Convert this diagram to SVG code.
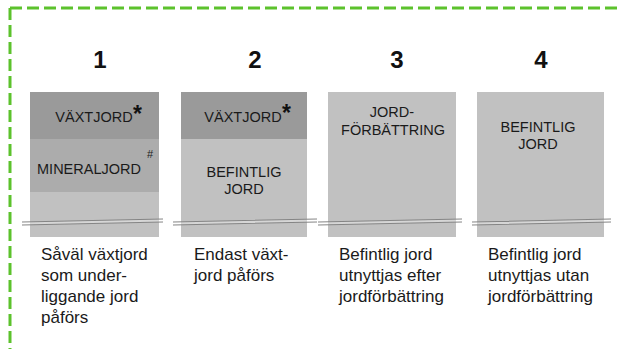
<svg xmlns="http://www.w3.org/2000/svg" width="618" height="349" viewBox="0 0 618 349">
<style>
.num{font-family:"Liberation Sans",Arial,sans-serif;font-weight:bold;font-size:24px;fill:#111;text-anchor:middle}
.lab{font-family:"Liberation Sans",Arial,sans-serif;font-size:14.5px;fill:#1a1a1a;text-anchor:middle}
.cap{font-family:"Liberation Sans",Arial,sans-serif;font-size:17px;fill:#1a1a1a}
.ast{font-family:"Liberation Sans",Arial,sans-serif;font-weight:bold;font-size:23px;fill:#111}
.sup{font-family:"Liberation Sans",Arial,sans-serif;font-size:11px;fill:#222}
.dark{fill:#9a9a9a}
.mid{fill:#acacac}
.light{fill:#c1c1c1}
.brk{fill:none;stroke:#858585;stroke-width:1.1}
.band{fill:#ffffff;fill-opacity:0.35}
.frame{fill:none;stroke:#5cc22c;stroke-width:3;stroke-dasharray:12 5}
</style>
<rect width="618" height="349" fill="#ffffff"/>
<g id="frame">
<line class="frame" x1="10" y1="8" x2="618" y2="8"/>
<line class="frame" x1="10" y1="8" x2="10" y2="349"/>
</g>
<g id="col1">
<text class="num" x="100" y="68">1</text>
<rect class="light" x="30" y="92" width="129" height="145"/>
<rect class="mid" x="30" y="139" width="129" height="53"/>
<rect class="dark" x="30" y="92" width="129" height="47"/>
<text class="lab" x="94" y="122">VÄXTJORD</text>
<text class="ast" x="133" y="122">*</text>
<text class="lab" x="89" y="174">MINERALJORD</text>
<text class="sup" x="147" y="158">#</text>
<polygon class="band" points="22,222 163,219 163,222 22,225"/>
<path class="brk" d="M22,222 L163,219 M22,225 L163,222"/>
<text class="cap" x="41" y="260">Såväl växtjord</text>
<text class="cap" x="41" y="281">som under-</text>
<text class="cap" x="41" y="302">liggande jord</text>
<text class="cap" x="41" y="323">påförs</text>
</g>
<g id="col2">
<text class="num" x="255" y="68">2</text>
<rect class="light" x="181" y="92" width="126" height="145"/>
<rect class="dark" x="181" y="92" width="126" height="47"/>
<text class="lab" x="243" y="122">VÄXTJORD</text>
<text class="ast" x="282" y="121">*</text>
<text class="lab" x="244" y="177">BEFINTLIG</text>
<text class="lab" x="244" y="194">JORD</text>
<polygon class="band" points="173,222 317,219 317,222 173,225"/>
<path class="brk" d="M173,222 L317,219 M173,225 L317,222"/>
<text class="cap" x="194" y="260">Endast växt-</text>
<text class="cap" x="194" y="281">jord påförs</text>
</g>
<g id="col3">
<text class="num" x="397" y="68">3</text>
<rect class="light" x="328" y="92" width="128" height="145"/>
<text class="lab" x="392" y="117">JORD-</text>
<text class="lab" x="393" y="135">FÖRBÄTTRING</text>
<polygon class="band" points="318,222 462,219 462,222 318,225"/>
<path class="brk" d="M318,222 L462,219 M318,225 L462,222"/>
<text class="cap" x="339" y="260">Befintlig jord</text>
<text class="cap" x="339" y="281">utnyttjas efter</text>
<text class="cap" x="339" y="302">jordförbättring</text>
</g>
<g id="col4">
<text class="num" x="541" y="68">4</text>
<rect class="light" x="477" y="92" width="127" height="145"/>
<text class="lab" x="538" y="132">BEFINTLIG</text>
<text class="lab" x="538" y="149">JORD</text>
<polygon class="band" points="472,222 611,219 611,222 472,225"/>
<path class="brk" d="M472,222 L611,219 M472,225 L611,222"/>
<text class="cap" x="488" y="260">Befintlig jord</text>
<text class="cap" x="488" y="281">utnyttjas utan</text>
<text class="cap" x="488" y="302">jordförbättring</text>
</g>
</svg>
